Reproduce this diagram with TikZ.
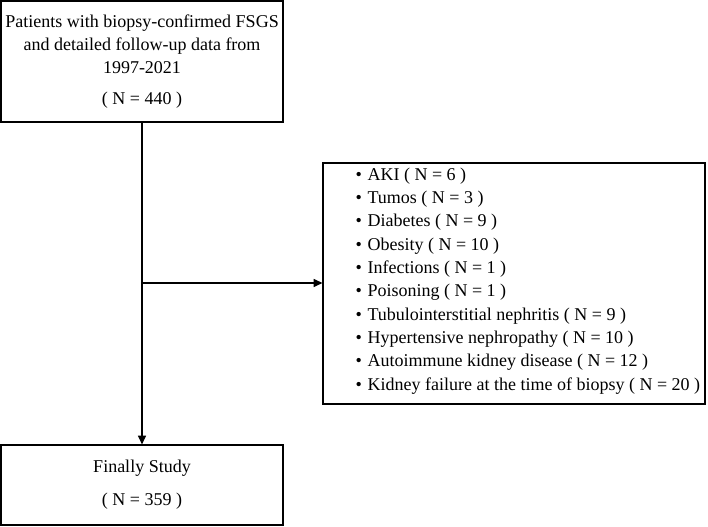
\documentclass[tikz,border=0pt]{standalone}
\usepackage{fontspec}
\setmainfont{Liberation Serif}
\usetikzlibrary{arrows.meta}

\tikzset{every picture/.style={line width=0.9pt}}
\tikzset{
	flowbox/.style={draw, rectangle, inner sep=0pt, align=center, font=\fontsize{13.5}{17.3}\selectfont},
	flowarrow/.style={-{Triangle[length=6.5pt,width=6pt]}},
	listtext/.style={inner sep=0pt, align=left, font=\fontsize{13.5}{17.5}\selectfont}}
\newcommand{\bul}{\makebox[9pt][l]{\textbullet}}

\begin{document}
\begin{tikzpicture}[x=0.75pt,y=0.75pt,yscale=-1,xscale=1]
	\path[use as bounding box] (0,0) rectangle (708,527);
	
	% Boxes
	\node (cohort) [flowbox, minimum width=211.5pt, minimum height=90.75pt] at (142,61.5)
		{Patients with biopsy-confirmed FSGS\\ and detailed follow-up data from\\ 1997-2021\\[6pt] ( N = 440 )};
	\node (final) [flowbox, minimum width=211.5pt, minimum height=60pt] at (142,485)
		{Finally Study\\[7.5pt] ( N = 359 )};
	\node (excl) [flowbox, minimum width=286.5pt, minimum height=180.75pt] at (514,283.5) {};
	
	% Text Node
	\node (exclist) [listtext, anchor=west] at (355,281)
		{\bul AKI ( N = 6 )\\
		 \bul Tumos ( N = 3 )\\
		 \bul Diabetes ( N = 9 )\\
		 \bul Obesity ( N = 10 )\\
		 \bul Infections ( N = 1 )\\
		 \bul Poisoning ( N = 1 )\\
		 \bul Tubulointerstitial nephritis ( N = 9 )\\
		 \bul Hypertensive nephropathy ( N = 10 )\\
		 \bul Autoimmune kidney disease ( N = 12 )\\
		 \bul Kidney failure at the time of biopsy ( N = 20 )};
	
	% Connectors
	\coordinate (branch) at (142,283);
	\draw [flowarrow] (cohort) -- (final);
	\draw [flowarrow] (branch) -- (excl.west |- branch);
	
\end{tikzpicture}
\end{document}
